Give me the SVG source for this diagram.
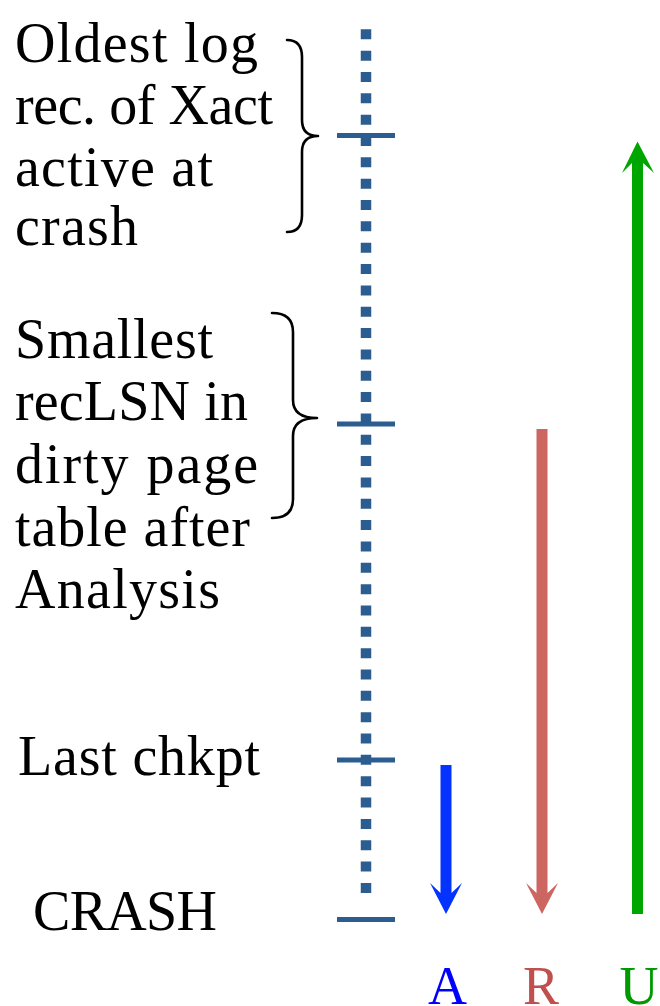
<svg xmlns="http://www.w3.org/2000/svg" width="660" height="1006" viewBox="0 0 660 1006">
<style>
.t{font-family:"Liberation Serif","Times New Roman",serif;font-size:56px;fill:#000}
.lbl{font-family:"Liberation Serif","Times New Roman",serif;font-size:54px;text-anchor:middle}
.tick{stroke:#2b5d91;stroke-width:5;fill:none}
.brace{stroke:#000;stroke-width:2.6;fill:none;stroke-linecap:round;stroke-linejoin:round}
</style>
<rect width="660" height="1006" fill="#fff"/>
<g id="log">
<line x1="366" y1="29.3" x2="366" y2="893.4" stroke="#2b5d91" stroke-width="10.5" stroke-dasharray="10 11.34"/>
<line class="tick" x1="337" y1="135.5" x2="395" y2="135.5"/>
<line class="tick" x1="337" y1="424" x2="395" y2="424"/>
<line class="tick" x1="337" y1="760" x2="395" y2="760"/>
<line class="tick" x1="337" y1="919.5" x2="395" y2="919.5"/>
</g>
<g id="oldest">
<text class="t" x="15" y="62" textLength="243">Oldest log</text>
<text class="t" x="15" y="124" textLength="258">rec. of Xact</text>
<text class="t" x="15" y="186" textLength="198">active at</text>
<text class="t" x="15" y="245" textLength="123">crash</text>
<path class="brace" d="M287,40 Q302,40 302,57 L302,120 Q302,136 318,136 Q302,136 302,152 L302,215 Q302,232 287,232"/>
</g>
<g id="smallest">
<text class="t" x="15" y="358" textLength="198">Smallest</text>
<text class="t" x="15" y="420" textLength="233">recLSN in</text>
<text class="t" x="15" y="483" textLength="243">dirty page</text>
<text class="t" x="15" y="546" textLength="235">table after</text>
<text class="t" x="15" y="608" textLength="205">Analysis</text>
<path class="brace" d="M272,313 Q293,313 293,332 L293,400 Q293,418 317,418 Q293,418 293,436 L293,499 Q293,518 272,518"/>
</g>
<g id="chkpt">
<text class="t" x="18" y="775" textLength="242">Last chkpt</text>
</g>
<g id="crash">
<text class="t" x="33" y="930" textLength="184">CRASH</text>
</g>
<g id="connectors">
<polygon fill="#0433ff" points="440.5,765 451.5,765 451.5,893 462,883 446,914 430,883 440.5,893"/>
<polygon fill="#cd6660" points="536.5,429 547.5,429 547.5,893 558,883 542,914 526,883 536.5,893"/>
<polygon fill="#00a600" points="632,914 643,914 643,163 654,173 637.5,141.5 622,173 632,163"/>
</g>
<g id="labels">
<text class="lbl" x="447.5" y="1004" fill="#0000ff">A</text>
<text class="lbl" x="541" y="1004" fill="#c0504d">R</text>
<text class="lbl" x="639" y="1004" fill="#009900">U</text>
</g>
</svg>
